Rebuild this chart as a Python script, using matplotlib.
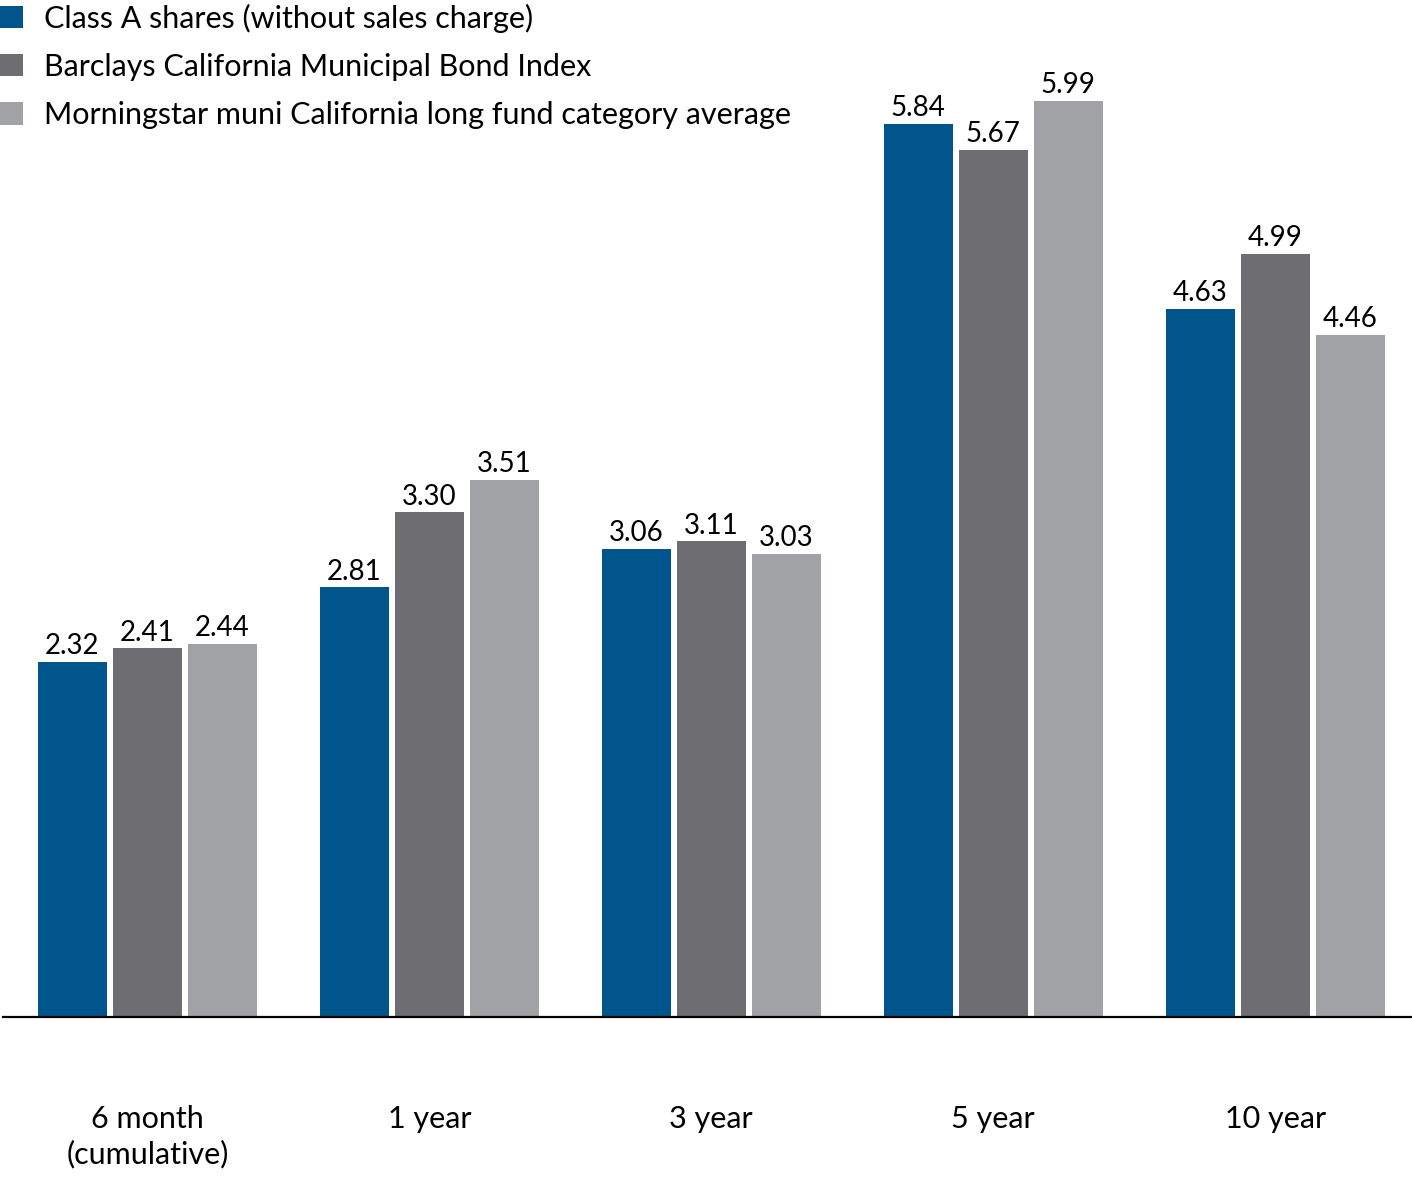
import matplotlib
matplotlib.use("Agg")
import matplotlib.pyplot as plt
import matplotlib.patches as mpatches
import numpy as np

plt.rcParams["font.family"] = ["Lato", "DejaVu Sans"]

CATEGORIES = ["6 month\n(cumulative)", "1 year", "3 year", "5 year", "10 year"]
SERIES = [
    "Class A shares (without sales charge)",
    "Barclays California Municipal Bond Index",
    "Morningstar muni California long fund category average",
]
CLASS_A   = [2.32, 2.81, 3.06, 5.84, 4.63]
BARCLAYS  = [2.41, 3.30, 3.11, 5.67, 4.99]
MORNING   = [2.44, 3.51, 3.03, 5.99, 4.46]

COLORS = ["#00558C", "#6E6D72", "#A0A2A5"]

fig = plt.figure(figsize=(14.12, 11.77), dpi=100)
ax = fig.add_axes([0.0021, 0.1359, 0.9979, 0.8641])

x = np.arange(len(CATEGORIES))
width = 0.245
offsets = [-0.266, 0.0, 0.266]

for vals, off, col in zip([CLASS_A, BARCLAYS, MORNING], offsets, COLORS):
    bars = ax.bar(x + off, vals, width, color=col, linewidth=0)
    for b, v in zip(bars, vals):
        ax.annotate(f"{v:.2f}", (b.get_x() + b.get_width() / 2, v),
                    xytext=(0, 2), textcoords="offset points",
                    ha="center", va="bottom", fontsize=20, color="black")

ax.set_xlim(-0.512, 4.485)
ax.set_ylim(0, 6.65)
ax.set_yticks([])
ax.set_xticks(x)
ax.set_xticklabels(CATEGORIES, fontsize=22, linespacing=1.3, va="top")
ax.tick_params(axis="x", length=0, pad=63)
for s in ["top", "right", "left"]:
    ax.spines[s].set_visible(False)
ax.spines["bottom"].set_linewidth(1.6)
ax.spines["bottom"].set_color("black")

handles = [mpatches.Patch(facecolor=c, edgecolor="none", label=l)
           for c, l in zip(COLORS, SERIES)]
fig.legend(handles=handles, loc="upper left", bbox_to_anchor=(0.0, 0.997),
           frameon=False, fontsize=22, handlelength=0.75, handleheight=0.75,
           handletextpad=0.7, labelspacing=0.66, borderpad=0, borderaxespad=0)

fig.savefig("out.png", dpi=100)
